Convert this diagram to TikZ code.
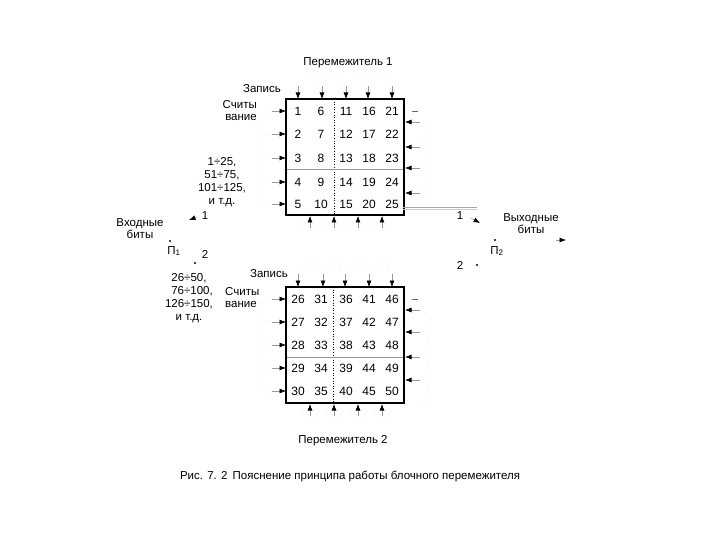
\documentclass[tikz,border=0pt]{standalone}
\usepackage{fontspec}
\setmainfont{Liberation Sans}
\usetikzlibrary{arrows.meta}
\begin{document}
\begin{tikzpicture}[x=1pt,y=-1pt,
  lbl/.style={font=\fontsize{11.5}{13}\selectfont, inner sep=0pt, align=center},
  num/.style={font=\fontsize{12}{13}\selectfont, inner sep=0pt},
  box/.style={draw, line width=1.2pt},
  tip/.style={-{Latex[length=6.5pt,width=5pt,color=black,fill=black,line width=0.6pt]}, draw=black!40, line width=0.5pt},
  faint/.style={draw=black!10, dotted, line width=0.6pt},
  dotmark/.style={circle, fill=black, inner sep=0pt, minimum size=2.4pt}]
\useasboundingbox (0,0) rectangle (720,540);

% ---------- interleaver 1 ----------
\node[box, minimum width=118pt, minimum height=116pt, inner sep=0pt] (B1) at (345,157) {};
\draw[dotted, line width=0.6pt] (334,99) -- (334,215);
\draw[black!40, line width=0.6pt] (287,169) -- (403,169);
\draw[black!35, line width=0.5pt] (403,207) -- (477,207);
\draw[black!20, line width=0.5pt] (403,209.5) -- (477,209.5);

% ---------- interleaver 2 ----------
\node[box, minimum width=118pt, minimum height=116pt, inner sep=0pt] (B2) at (345,345) {};
\draw[dotted, line width=0.6pt] (333,287) -- (333,403);
\draw[black!40, line width=0.6pt] (287,357) -- (403,357);

% numbers
\foreach \c [count=\i from 0] in {298,321,346,369,392}{
  \foreach \r [count=\j from 1] in {111,134,158,182,204}{
    \pgfmathtruncatemacro{\n}{\i*5+\j}
    \node[num] (n\n) at (\c,\r) {\n};
  }
  \foreach \r [count=\j from 1] in {299,322,345,368,391}{
    \pgfmathtruncatemacro{\n}{25+\i*5+\j}
    \node[num] (n\n) at (\c,\r) {\n};
  }
}

% ---------- faint dotted paths ----------
\foreach \yo in {0,188}{
  \foreach \x in {298,321,346,369}{
    \draw[faint] (\x+4,84+\yo) .. controls (\x+8,70+\yo) and (\x+16,70+\yo) .. (\x+20,84+\yo);
  }
  \foreach \r in {111,134,158,182}{
    \draw[faint] (268,\r+\yo) .. controls (255,\r+5+\yo) and (255,\r+18+\yo) .. (268,\r+23+\yo);
    \draw[faint] (420,\r+11+\yo) .. controls (433,\r+16+\yo) and (433,\r+28+\yo) .. (420,\r+34+\yo);
  }
  \foreach \x in {310,334,358,382}{
    \draw[faint] (\x-10,220+\yo) .. controls (\x-6,234+\yo) and (\x+6,234+\yo) .. (\x+10,220+\yo);
  }
}

% ---------- arrows interleaver 1 ----------
\foreach \x [count=\k] in {298,322,346,368,392}{
  \coordinate (t1\k) at (\x,86);
  \draw[tip] (t1\k) -- (\x,99);
}
\foreach \r [count=\k] in {111,134,158,182,204}{
  \coordinate (l1\k) at (272,\r);
  \draw[tip] (l1\k) -- (286,\r);
}
\foreach \r [count=\k] in {122,147,168,193}{
  \coordinate (r1\k) at (420,\r);
  \draw[tip] (r1\k) -- (405,\r);
}
\draw[black!60, line width=0.4pt] (412,111) -- (418,111);
\foreach \x [count=\k] in {310,334,358,382}{
  \coordinate (b1\k) at (\x,228);
  \draw[tip] (b1\k) -- (\x,216);
}

% ---------- arrows interleaver 2 ----------
\foreach \x [count=\k] in {298,323,345,369,392}{
  \coordinate (t2\k) at (\x,274);
  \draw[tip] (t2\k) -- (\x,287);
}
\foreach \r [count=\k] in {299,322,345,368,391}{
  \coordinate (l2\k) at (272,\r);
  \draw[tip] (l2\k) -- (286,\r);
}
\foreach \r [count=\k] in {310,332,357,380}{
  \coordinate (r2\k) at (420,\r);
  \draw[tip] (r2\k) -- (405,\r);
}
\draw[black!60, line width=0.4pt] (412,299) -- (418,299);
\foreach \x [count=\k] in {310,334,358,382}{
  \coordinate (b2\k) at (\x,416);
  \draw[tip] (b2\k) -- (\x,404);
}

% ---------- labels ----------
\node[lbl] (title1) at (348,63) {Перемежитель 1};
\node[lbl] (zap1) at (262,89) {Запись};
\node[lbl, align=right, anchor=east] (read1) at (257,111) {Считы\\[-1pt]вание};
\node[lbl, align=center] (rng1) at (222,182) {1÷25,\\51÷75,\\101÷125,\\и т.д.};
\node[lbl] (title2) at (343,441) {Перемежитель 2};
\node[lbl] (zap2) at (269,274) {Запись};
\node[lbl, align=left, anchor=west] (read2) at (225,298) {Считы\\[-1pt]вание};
\node[lbl, align=center] (rng2) at (189,298) {26÷50,\\\hspace*{6pt}76÷100,\\126÷150,\\и т.д.};

% input switch
\node[lbl] (inp) at (140,229) {Входные\\[-1pt]биты};
\node[dotmark] (p1) at (170,241) {};
\node[lbl] (p1l) at (174,251) {П\textsubscript{1}};
\node[lbl] (in1) at (205,216) {1};
\coordinate (in1a) at (197,217);
\draw[tip] (in1a) -- (189,220);
\node[lbl] (in2) at (205,254) {2};
\node[dotmark] (in2d) at (195,263) {};

% output switch
\node[lbl] (out1) at (460,216) {1};
\coordinate (o1a) at (471,218);
\draw[tip] (o1a) -- (480,223);
\node[lbl] (outp) at (531,224) {Выходные\\[-1pt]биты};
\node[dotmark] (p2) at (495,240) {};
\node[lbl] (p2l) at (497,251) {П\textsubscript{2}};
\node[lbl] (out2) at (460,265) {2};
\node[dotmark] (o2d) at (477,265) {};
\coordinate (oa) at (556,240);
\draw[tip] (oa) -- (566,240);

% caption
\node[lbl] (cap) at (350,476) {Рис. 7. 2\, Пояснение принципа работы блочного перемежителя};
\end{tikzpicture}
\end{document}
